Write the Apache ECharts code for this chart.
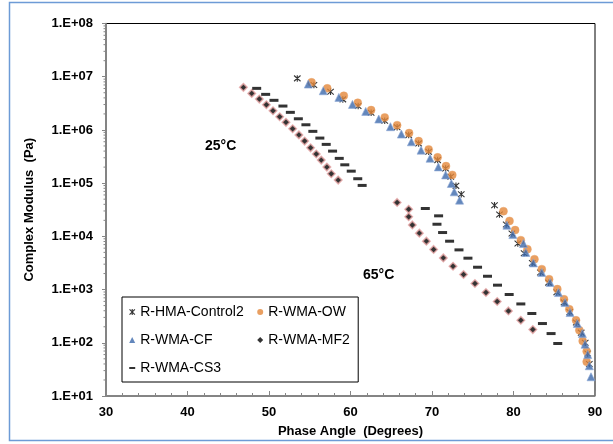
<!DOCTYPE html>
<html>
<head>
<meta charset="utf-8">
<script src="https://cdn.jsdelivr.net/npm/echarts@6/dist/echarts.min.js"></script>
<style>
html,body{margin:0;padding:0;background:#fff;}
#chart{width:613px;height:444px;}
</style>
</head>
<body>
<div id="chart"></div>
<script>
// ---- Data ----
const seriesNames = ['R-HMA-Control2', 'R-WMA-OW', 'R-WMA-CF', 'R-WMA-MF2', 'R-WMA-CS3'];

const control2Angle = [53.47, 55.51, 57.55, 59.06, 60.94, 62.53, 64.20, 65.72, 67.14, 68.36, 69.59, 70.69, 71.67, 72.3, 72.94, 73.59,
  77.67, 78.28, 79.10, 79.80, 80.53, 81.3, 82.3, 83.3, 84.3, 85.3, 86.2, 86.9, 87.7, 88.3, 88.8, 89.1, 89.3];
const control2Modulus = [9.3e6, 6.97e6, 5.21e6, 3.75e6, 2.81e6, 2.10e6, 1.49e6, 1.12e6, 8.0e5, 5.58e5, 3.88e5, 2.71e5, 1.89e5, 1.32e5, 8.9e4, 6.2e4,
  3.85e4, 2.58e4, 1.67e4, 1.13e4, 7.35e3, 4.8e3, 3.16e3, 2.09e3, 1.35e3, 890, 575, 380, 240, 155, 100, 63, 40];

const owAngle = [55.22, 57.15, 59.18, 60.89, 62.53, 64.20, 65.72, 67.19, 68.36, 69.59, 70.69, 71.72, 72.49,
  78.77, 79.51, 80.20, 80.90, 81.71, 82.57, 83.47, 84.37, 85.38, 86.20, 86.85, 87.67, 88.08, 88.49, 88.98, 88.98];
const owModulus = [7.83e6, 6.04e6, 4.39e6, 3.24e6, 2.36e6, 1.72e6, 1.23e6, 8.73e5, 6.17e5, 4.31e5, 3.05e5, 2.09e5, 1.43e5,
  2.97e4, 1.95e4, 1.31e4, 8.47e3, 5.74e3, 3.72e3, 2.42e3, 1.57e3, 1.02e3, 659, 428, 265, 172, 108, 69, 44];

const cfAngle = [54.82, 56.66, 58.57, 60.24, 61.87, 63.47, 64.90, 66.24, 67.47, 68.66, 69.76, 70.78, 71.67, 72.37, 72.73, 73.38,
  79.19, 79.92, 81.22, 81.51, 82.44, 83.47, 84.49, 85.51, 86.33, 86.94, 87.83, 88.45, 88.78, 89.11, 89.30, 89.51];
const cfModulus = [7.28e6, 5.45e6, 4.09e6, 3.02e6, 2.23e6, 1.60e6, 1.15e6, 8.36e5, 5.98e5, 4.17e5, 2.94e5, 2.02e5, 1.43e5, 9.86e4, 6.87e4, 4.79e4,
  1.62e4, 1.08e4, 7.35e3, 4.98e3, 3.17e3, 2.09e3, 1.36e3, 879, 570, 370, 230, 149, 94, 60, 37, 23];

const mf2Angle = [46.86, 47.88, 48.82, 49.68, 50.49, 51.31, 52.08, 52.90, 53.67, 54.37, 55.10, 55.80, 56.41, 57.10, 57.64, 58.49,
  65.72, 67.14, 67.14, 67.59, 68.45, 69.31, 70.20, 71.39, 72.58, 73.87, 75.27, 76.62, 78.00, 79.38, 80.90, 82.37];
const mf2Modulus = [6.31e6, 4.86e6, 3.80e6, 2.97e6, 2.29e6, 1.77e6, 1.39e6, 1.05e6, 8.07e5, 6.17e5, 4.61e5, 3.52e5, 2.71e5, 2.0e5, 1.50e5, 1.14e5,
  4.34e4, 3.24e4, 2.33e4, 1.64e4, 1.15e4, 8.13e3, 5.68e3, 3.94e3, 2.75e3, 1.92e3, 1.30e3, 879, 596, 397, 265, 177];

const cs3Angle = [48.49, 49.59, 50.61, 51.71, 52.62, 53.60, 54.53, 55.38, 56.24, 57.02, 57.80, 58.62, 59.30, 60.09, 60.89, 61.43,
  69.18, 70.81, 70.61, 71.30, 72.16, 73.31, 74.41, 75.59, 76.81, 78.04, 79.47, 80.90, 82.25, 83.55, 84.61, 85.43];
const cs3Modulus = [6.04e6, 4.66e6, 3.60e6, 2.81e6, 2.14e6, 1.62e6, 1.25e6, 9.40e5, 7.03e5, 5.35e5, 4.0e5, 2.92e5, 2.21e5, 1.68e5, 1.21e5, 9.06e4,
  3.34e4, 2.43e4, 1.69e4, 1.18e4, 8.11e3, 5.57e3, 3.89e3, 2.63e3, 1.78e3, 1.21e3, 807, 537, 355, 230, 149, 97];

const xTicks = [30, 40, 50, 60, 70, 80, 90];
const yTickLabels = ['1.E+01', '1.E+02', '1.E+03', '1.E+04', '1.E+05', '1.E+06', '1.E+07', '1.E+08'];
const tempLabels = ['25°C', '65°C'];

// ---- helpers ----
function pairs(xs, ys) { return xs.map((x, i) => [x, ys[i]]); }
const yMinorTicks = [];
for (let e = 1; e < 8; e++) for (let k = 2; k <= 9; k++) yMinorTicks.push([k * Math.pow(10, e)]);

const FONT = 'Liberation Sans, Arial, sans-serif';
const asteriskPath = 'path://M0,0L8,8M8,0L0,8M4,-0.5L4,8.5';

const chart = echarts.init(document.getElementById('chart'), null, { renderer: 'canvas' });
chart.setOption({
  animation: false,
  backgroundColor: '#fff',
  grid: { left: 106, right: 18, top: 23.5, bottom: 48, show: true, borderColor: '#000', borderWidth: 1, backgroundColor: 'transparent' },
  xAxis: {
    type: 'value', min: xTicks[0], max: xTicks[xTicks.length - 1], interval: 10,
    name: 'Phase Angle  (Degrees)', nameLocation: 'middle', nameGap: 29,
    nameTextStyle: { fontFamily: FONT, fontWeight: 'bold', fontSize: 13, color: '#000' },
    axisLine: { onZero: false, lineStyle: { color: '#868686', width: 1.5 } },
    axisTick: { inside: true, length: 5, lineStyle: { color: '#868686' } },
    minorTick: { show: true, splitNumber: 5, length: 3, lineStyle: { color: '#868686' } },
    splitLine: { show: false },
    axisLabel: { margin: 10, fontFamily: FONT, fontWeight: 'bold', fontSize: 13, color: '#000' }
  },
  yAxis: {
    type: 'log', logBase: 10, min: 10, max: 1e8,
    name: 'Complex Modulus  (Pa)', nameLocation: 'middle', nameGap: 70,
    nameTextStyle: { fontFamily: FONT, fontWeight: 'bold', fontSize: 13, color: '#000' },
    axisLine: { lineStyle: { color: '#868686', width: 1.5 } },
    axisTick: { inside: false, length: 4, lineStyle: { color: '#868686' } },
    splitLine: { show: false },
    axisLabel: {
      margin: 13, fontFamily: FONT, fontWeight: 'bold', fontSize: 13, color: '#000',
      formatter: v => yTickLabels[Math.round(Math.log10(v)) - 1] || ''
    }
  },
  legend: {
    data: [
      { name: seriesNames[0], itemStyle: { borderColor: '#000', borderWidth: 1.1 }, textStyle: { width: 107 } },
      { name: seriesNames[1], textStyle: { width: 84 } },
      { name: seriesNames[2], textStyle: { width: 107 } },
      { name: seriesNames[3], textStyle: { width: 84 } },
      { name: seriesNames[4], icon: 'path://M0,0h6v2h-6z', textStyle: { width: 107 } }
    ],
    left: 122, top: 297, width: 228,
    orient: 'horizontal',
    padding: [6, 6, 5, 7],
    itemGap: 10, itemWidth: 6, itemHeight: 6,
    itemStyle: { borderWidth: 0 },
    borderColor: '#000', borderWidth: 1, backgroundColor: '#fff',
    textStyle: { fontFamily: FONT, fontSize: 14, color: '#000', height: 18, lineHeight: 18 }
  },
  graphic: [
    { type: 'rect', shape: { x: 9.5, y: 2.5, width: 700, height: 438 }, style: { fill: 'none', stroke: '#6D9BD6', lineWidth: 1.5 }, silent: true, z: 100 },
    { type: 'text', left: 205, top: 139, style: { text: tempLabels[0], font: 'bold 14px ' + FONT, fill: '#000' } },
    { type: 'text', left: 363, top: 268, style: { text: tempLabels[1], font: 'bold 14px ' + FONT, fill: '#000' } }
  ],
  series: [
    {
      name: seriesNames[0], type: 'scatter', data: pairs(control2Angle, control2Modulus),
      symbol: asteriskPath, symbolSize: 6.5,
      itemStyle: { color: '#000', borderColor: '#000', borderWidth: 1.1 }
    },
    {
      name: seriesNames[1], type: 'scatter', data: pairs(owAngle, owModulus),
      symbol: 'circle', symbolSize: 8,
      itemStyle: { color: '#E3873A', borderColor: '#E8A064', borderWidth: 0.5 }
    },
    {
      name: seriesNames[2], type: 'scatter', data: pairs(cfAngle, cfModulus),
      symbol: 'triangle', symbolSize: 8,
      itemStyle: { color: '#3C69AB', borderColor: '#8EA9D6', borderWidth: 0.8 }
    },
    {
      name: seriesNames[3], type: 'scatter', data: pairs(mf2Angle, mf2Modulus),
      symbol: 'diamond', symbolSize: 7.5,
      itemStyle: { color: '#000', borderColor: '#E5A3A3', borderWidth: 1.5 }
    },
    {
      name: seriesNames[4], type: 'scatter', data: pairs(cs3Angle, cs3Modulus),
      symbol: 'rect', symbolSize: [9, 3],
      itemStyle: { color: '#000' }
    },
    {
      type: 'custom', silent: true, clip: false, data: yMinorTicks,
      encode: { y: 0 },
      renderItem: function (params, api) {
        const p = api.coord([xTicks[0], api.value(0)]);
        return { type: 'line', shape: { x1: p[0] - 2.5, y1: p[1], x2: p[0], y2: p[1] }, style: { stroke: '#868686', lineWidth: 1 } };
      }
    }
  ]
});
</script>
</body>
</html>
